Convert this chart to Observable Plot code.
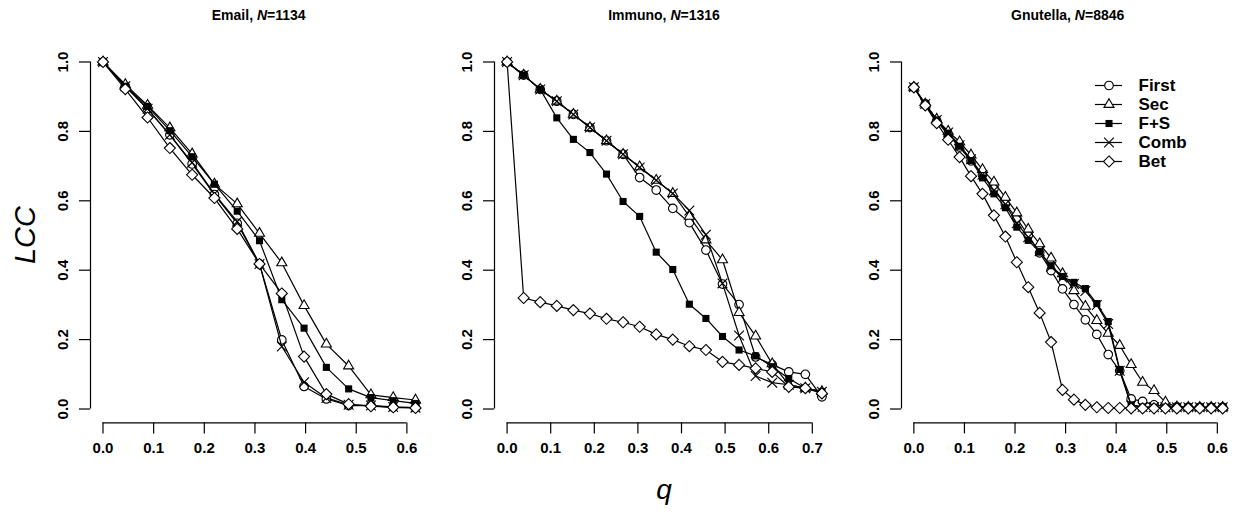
<!DOCTYPE html>
<html><head><meta charset="utf-8">
<script src="https://cdn.jsdelivr.net/npm/d3@7"></script>
<script src="https://cdn.jsdelivr.net/npm/@observablehq/plot@0.6"></script>
<style>
body{margin:0;background:#fff;}
#wrap{position:relative;width:1242px;height:516px;overflow:hidden;font-family:"Liberation Sans",Arial,sans-serif;color:#000;}
.panel{position:absolute;top:0;}
.title{position:absolute;top:7px;font-weight:bold;font-size:14px;transform:translateX(-50%);white-space:nowrap;}
.ylab{position:absolute;left:25px;top:235px;font-style:italic;font-size:29px;transform:translate(-50%,-50%) rotate(-90deg);white-space:nowrap;}
.xlab{position:absolute;left:664px;top:490px;font-style:italic;font-size:28px;transform:translate(-50%,-50%);}
.legend{position:absolute;left:1090px;top:73px;}
</style></head><body><div id="wrap"></div>
<script>
const seriesNames = ["First", "Sec", "F+S", "Comb", "Bet"];

// Email, N=1134
const emailQ = [0, 0.044, 0.088, 0.132, 0.176, 0.220, 0.265, 0.309, 0.353, 0.397, 0.441, 0.485, 0.529, 0.573, 0.617];
const emailFirst = [1.0, 0.93, 0.865, 0.79, 0.706, 0.618, 0.535, 0.418, 0.199, 0.065, 0.029, 0.01, 0.01, 0.005, 0.004];
const emailSec = [1.0, 0.935, 0.875, 0.81, 0.735, 0.648, 0.591, 0.506, 0.421, 0.298, 0.187, 0.124, 0.041, 0.033, 0.026];
const emailFS = [1.0, 0.93, 0.872, 0.802, 0.727, 0.648, 0.570, 0.485, 0.315, 0.233, 0.12, 0.058, 0.033, 0.024, 0.016];
const emailComb = [1.0, 0.93, 0.865, 0.79, 0.71, 0.62, 0.54, 0.418, 0.18, 0.077, 0.032, 0.012, 0.01, 0.006, 0.004];
const emailBet = [1.0, 0.922, 0.84, 0.752, 0.675, 0.608, 0.519, 0.418, 0.333, 0.151, 0.043, 0.014, 0.008, 0.005, 0.003];

// Immuno, N=1316
const immunoQ = [0, 0.038, 0.076, 0.114, 0.152, 0.190, 0.228, 0.266, 0.304, 0.342, 0.380, 0.418, 0.456, 0.494, 0.532, 0.570, 0.608, 0.646, 0.684, 0.722];
const immunoFirst = [1.0, 0.962, 0.921, 0.887, 0.849, 0.811, 0.773, 0.734, 0.667, 0.631, 0.578, 0.537, 0.458, 0.36, 0.301, 0.15, 0.128, 0.107, 0.1, 0.035];
const immunoSec = [1.0, 0.962, 0.921, 0.887, 0.849, 0.811, 0.773, 0.734, 0.698, 0.659, 0.621, 0.555, 0.487, 0.43, 0.278, 0.21, 0.13, 0.07, 0.06, 0.05];
const immunoFS = [1.0, 0.962, 0.921, 0.839, 0.777, 0.739, 0.677, 0.598, 0.555, 0.452, 0.402, 0.302, 0.261, 0.209, 0.17, 0.153, 0.122, 0.088, 0.06, 0.05];
const immunoComb = [1.0, 0.962, 0.921, 0.887, 0.849, 0.811, 0.773, 0.734, 0.696, 0.659, 0.621, 0.572, 0.502, 0.362, 0.212, 0.095, 0.076, 0.07, 0.06, 0.05];
const immunoBet = [1.0, 0.32, 0.308, 0.297, 0.285, 0.275, 0.26, 0.25, 0.237, 0.215, 0.2, 0.181, 0.17, 0.136, 0.127, 0.117, 0.107, 0.064, 0.06, 0.045];

// Gnutella, N=8846
const gnutellaQ = [0, 0.0226, 0.0452, 0.0678, 0.0904, 0.1130, 0.1357, 0.1583, 0.1809, 0.2035, 0.2261, 0.2487, 0.2713, 0.2939, 0.3165, 0.3391, 0.3617, 0.3843, 0.4070, 0.4296, 0.4522, 0.4748, 0.4974, 0.5200, 0.5426, 0.5652, 0.5878, 0.6105];
const gnutellaFirst = [0.927, 0.879, 0.83, 0.79, 0.755, 0.715, 0.675, 0.635, 0.59, 0.55, 0.5, 0.45, 0.399, 0.346, 0.301, 0.257, 0.215, 0.157, 0.11, 0.029, 0.022, 0.012, 0.008, 0.006, 0.005, 0.005, 0.005, 0.005];
const gnutellaSec = [0.927, 0.879, 0.835, 0.8, 0.77, 0.732, 0.69, 0.654, 0.61, 0.565, 0.518, 0.476, 0.435, 0.39, 0.341, 0.296, 0.255, 0.218, 0.183, 0.128, 0.077, 0.053, 0.02, 0.006, 0.005, 0.005, 0.005, 0.005];
const gnutellaFS = [0.927, 0.879, 0.833, 0.795, 0.757, 0.716, 0.666, 0.62, 0.58, 0.524, 0.486, 0.452, 0.413, 0.382, 0.365, 0.347, 0.304, 0.252, 0.114, 0.012, 0.006, 0.005, 0.005, 0.005, 0.005, 0.005, 0.005, 0.005];
const gnutellaComb = [0.927, 0.879, 0.833, 0.797, 0.76, 0.72, 0.675, 0.63, 0.59, 0.535, 0.495, 0.455, 0.41, 0.378, 0.36, 0.34, 0.3, 0.245, 0.11, 0.01, 0.006, 0.005, 0.005, 0.005, 0.005, 0.005, 0.005, 0.005];
const gnutellaBet = [0.927, 0.875, 0.824, 0.776, 0.726, 0.671, 0.62, 0.558, 0.497, 0.423, 0.351, 0.277, 0.193, 0.055, 0.027, 0.012, 0.005, 0.003, 0.003, 0.002, 0.002, 0.002, 0.002, 0.002, 0.002, 0.002, 0.002, 0.002];

const emailTicks = [0, 0.1, 0.2, 0.3, 0.4, 0.5, 0.6];
const immunoTicks = [0, 0.1, 0.2, 0.3, 0.4, 0.5, 0.6, 0.7];
const gnutellaTicks = [0, 0.1, 0.2, 0.3, 0.4, 0.5, 0.6];
const yTicks = [0, 0.2, 0.4, 0.6, 0.8, 1.0];

const symbolStyle = {
  "First": {symbol: "circle", r: 4.3, fill: "white", stroke: "black"},
  "Sec":   {symbol: "triangle2", r: 4.8, fill: "white", stroke: "black"},
  "F+S":   {symbol: "square", r: 4.0, fill: "black", stroke: "none"},
  "Comb":  {symbol: "times", r: 4.5, fill: "none", stroke: "black"},
  "Bet":   {symbol: "diamond2", r: 5.0, fill: "white", stroke: "black"}
};

const FONT = '"Liberation Sans", Arial, sans-serif';
const wrap = document.getElementById("wrap");

function makePanel(cfg) {
  const {q, series, ticks, left, width, ml, mr} = cfg;
  const qmax = q[q.length - 1];
  const xDom = [-0.04 * qmax, 1.04 * qmax];
  const marks = [];
  seriesNames.forEach((name, i) => {
    const rows = q.map((qq, j) => ({q: qq, v: series[i][j]}));
    const st = symbolStyle[name];
    marks.push(Plot.line(rows, {x: "q", y: "v", stroke: "black", strokeWidth: 1.2}));
    marks.push(Plot.dot(rows, {x: "q", y: "v", symbol: () => st.symbol, r: st.r, fill: st.fill, stroke: st.stroke, strokeWidth: 1.1}));
  });
  marks.push(Plot.ruleY([-0.04], {x1: ticks[0], x2: ticks[ticks.length - 1], stroke: "black", strokeWidth: 1.2}));
  marks.push(Plot.ruleX([xDom[0]], {y1: 0, y2: 1, stroke: "black", strokeWidth: 1.2}));
  marks.push(Plot.axisX({ticks, label: null, tickSize: 11, tickPadding: 8, tickFormat: d3.format(".1f"), fontSize: 15, fontWeight: "bold", fontFamily: FONT, strokeWidth: 1.2}));
  marks.push(Plot.axisY({ticks: yTicks, label: null, tickSize: 11, tickFormat: () => "", strokeWidth: 1.2}));
  marks.push(Plot.text(yTicks, {y: d => d, frameAnchor: "left", dx: -27, rotate: -90, text: d3.format(".1f"), fontSize: 15, fontWeight: "bold", fontFamily: FONT, textAnchor: "middle", lineAnchor: "middle"}));
  const p = Plot.plot({
    width, height: 516,
    marginLeft: ml, marginRight: mr, marginTop: 47.6, marginBottom: 93.6,
    x: {domain: xDom, label: null},
    y: {domain: [-0.04, 1.04], label: null},
    symbol: {type: "identity"},
    style: {background: "transparent", overflow: "visible", fontFamily: FONT},
    marks
  });
  p.classList.add("panel");
  p.style.position = "absolute";
  p.style.left = left + "px";
  p.style.top = "0px";
  wrap.appendChild(p);
}

makePanel({q: emailQ, series: [emailFirst, emailSec, emailFS, emailComb, emailBet], ticks: emailTicks, left: 0, width: 440, ml: 90, mr: 12.5});
makePanel({q: immunoQ, series: [immunoFirst, immunoSec, immunoFS, immunoComb, immunoBet], ticks: immunoTicks, left: 440, width: 400, ml: 54, mr: 6});
makePanel({q: gnutellaQ, series: [gnutellaFirst, gnutellaSec, gnutellaFS, gnutellaComb, gnutellaBet], ticks: gnutellaTicks, left: 840, width: 402, ml: 61, mr: 7.5});

// titles and axis labels
const titles = [["Email", "1134", 258.7], ["Immuno", "1316", 664], ["Gnutella", "8846", 1067.7]];
titles.forEach(([name, n, cx]) => {
  const d = document.createElement("div");
  d.className = "title";
  d.style.left = cx + "px";
  d.innerHTML = name + ", <i>N</i>=" + n;
  wrap.appendChild(d);
});
const yl = document.createElement("div"); yl.className = "ylab"; yl.textContent = "LCC"; wrap.appendChild(yl);
const xl = document.createElement("div"); xl.className = "xlab"; xl.textContent = "q"; wrap.appendChild(xl);

// legend
const legendMarks = [];
seriesNames.forEach(name => {
  const st = symbolStyle[name];
  legendMarks.push(Plot.ruleY([name], {y: d => d, x1: 5, x2: 32, stroke: "black", strokeWidth: 1.2}));
  legendMarks.push(Plot.dot([name], {y: d => d, x: () => 18.5, symbol: () => st.symbol, r: st.r, fill: st.fill, stroke: st.stroke, strokeWidth: 1.1}));
});
legendMarks.push(Plot.text(seriesNames, {y: d => d, x: () => 48, text: d => d, textAnchor: "start", fontSize: 17, fontWeight: "bold", fontFamily: FONT}));
const leg = Plot.plot({
  width: 150, height: 100,
  margin: 0,
  x: {domain: [0, 150], range: [0, 150], axis: null},
  y: {type: "point", domain: seriesNames, range: [10.3, 89.5], padding: 0, axis: null},
  symbol: {type: "identity"},
  style: {background: "transparent", overflow: "visible"},
  marks: legendMarks
});
leg.classList.add("legend");
wrap.appendChild(leg);
</script>
</body></html>
